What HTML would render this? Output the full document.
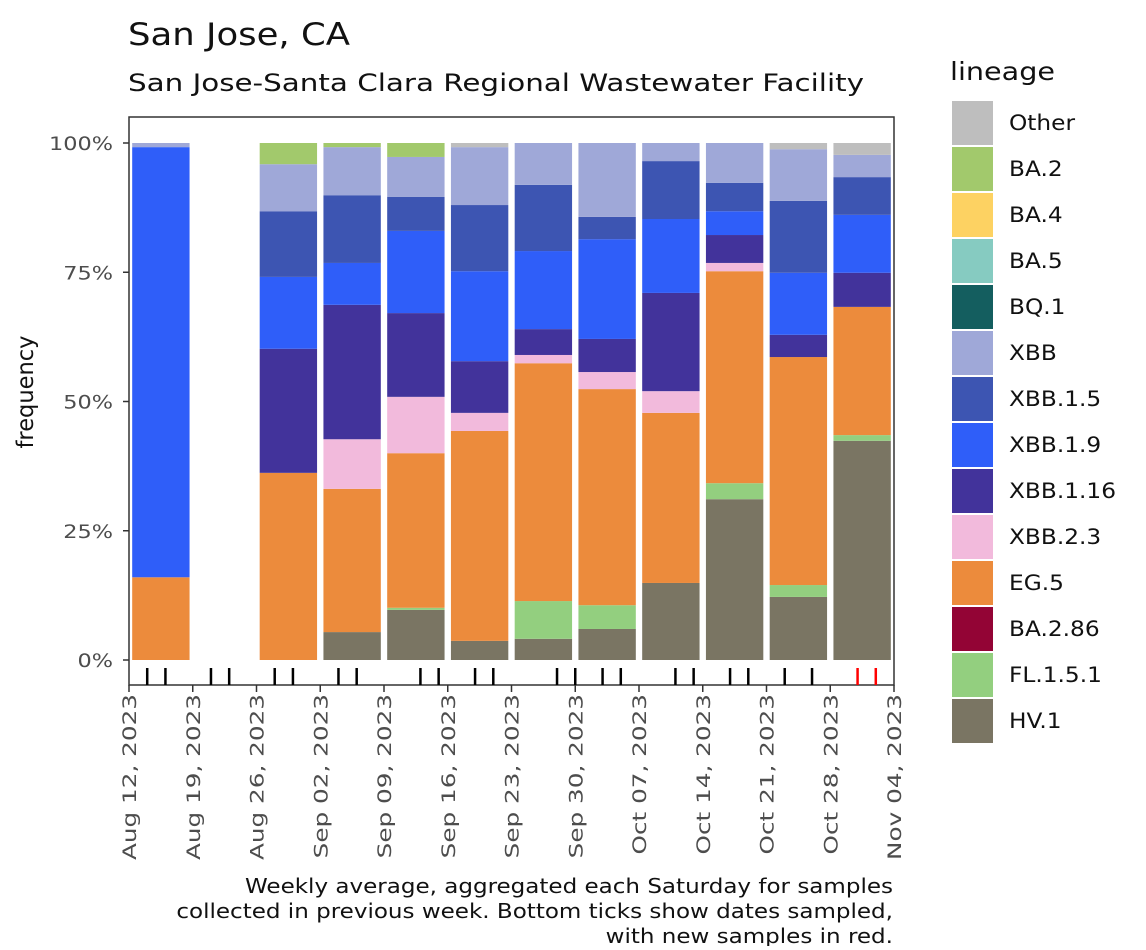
<!DOCTYPE html>
<html><head><meta charset="utf-8"><style>
body{margin:0;background:#fff;font-family:"DejaVu Sans","Liberation Sans",sans-serif;}
</style></head><body>
<svg id="chart" width="1146" height="946" xmlns="http://www.w3.org/2000/svg" font-family="DejaVu Sans, Liberation Sans, sans-serif">
<text id="title" x="128" y="45" font-size="31" fill="#111">San Jose, CA</text>
<text id="subtitle" x="128" y="91" font-size="24" fill="#111">San Jose-Santa Clara Regional Wastewater Facility</text>
<text id="ytitle" transform="translate(33,392) rotate(-90)" text-anchor="middle" font-size="23" fill="#111">frequency</text>
<g id="bars"></g>
<g id="axes"></g>
<g id="legend"></g>
<g id="caption" font-size="20" fill="#111" text-anchor="end">
<text x="893" y="893">Weekly average, aggregated each Saturday for samples</text>
<text x="893" y="918">collected in previous week. Bottom ticks show dates sampled,</text>
<text x="893" y="943">with new samples in red.</text>
</g>
</svg>
<script>
const lineages = ["Other","BA.2","BA.4","BA.5","BQ.1","XBB","XBB.1.5","XBB.1.9","XBB.1.16","XBB.2.3","EG.5","BA.2.86","FL.1.5.1","HV.1"];
const colors = ["#bebebe","#a2c96c","#fdd262","#86cbc1","#145e5f","#9fa8d8","#3d55b2","#2f5ef9","#42339b","#f2badc","#ec8b3c","#930435","#93cf7f","#7a7563"];
const weekIndex = [0,2,3,4,5,6,7,8,9,10,11];
const hv1   = [0,0,5.4,9.7,3.7,4.1,6,14.9,31.1,12.2,42.4];
const fl151 = [0,0,0,0.4,0,7.3,4.6,0,3.1,2.3,1.1];
const eg5   = [16,36.2,27.7,29.9,40.6,46,41.8,32.9,41,44.1,24.8];
const xbb23 = [0,0,9.6,10.9,3.5,1.6,3.3,4.2,1.6,0,0];
const xbb116= [0,24,26,16.2,10,5,6.4,19,5.4,4.3,6.6];
const xbb19 = [83.2,13.9,8.1,15.9,17.4,15.1,19.3,14.3,4.6,12,11.2];
const xbb15 = [0,12.7,13.1,6.6,12.8,12.8,4.3,11.2,5.5,13.9,7.3];
const xbb   = [0.8,9.1,9.3,7.7,11.2,8.1,14.3,3.5,7.7,10,4.3];
const ba2   = [0,4.1,0.8,2.7,0,0,0,0,0,0,0];
const other = [0,0,0,0,0.8,0,0,0,0,1.2,2.3];
const sampleDays = [2,4,9,11,16,18,23,25,32,34,38,40,47,49,52,54,60,62,66,68,72,75,80,82];
const sampleNew  = [0,0,0,0,0,0,0,0,0,0,0,0,0,0,0,0,0,0,0,0,0,0,1,1];
const yTicks = [0,25,50,75,100];
const xTickLabels = ["Aug 12, 2023","Aug 19, 2023","Aug 26, 2023","Sep 02, 2023","Sep 09, 2023","Sep 16, 2023","Sep 23, 2023","Sep 30, 2023","Oct 07, 2023","Oct 14, 2023","Oct 21, 2023","Oct 28, 2023","Nov 04, 2023"];

const NS="http://www.w3.org/2000/svg";
const X0=129, X1=894, Y0=660, Y100=143;
const dayW=(X1-X0)/84;
const xDay=d=>X0+d*dayW;
const y=v=>Y0-(Y0-Y100)*v/100;
function mk(tag,attrs,parent){const e=document.createElementNS(NS,tag);for(const k in attrs)e.setAttribute(k,attrs[k]);parent.appendChild(e);return e;}
function fitTo(el,target){el.setAttribute('textLength',target);el.setAttribute('lengthAdjust','spacingAndGlyphs');}
function scaleBy(el,f){const w=el.getComputedTextLength();fitTo(el,w*f);}
const axes=document.getElementById('axes'), bars=document.getElementById('bars'), legend=document.getElementById('legend');

const stack=[["HV.1",hv1],["FL.1.5.1",fl151],["EG.5",eg5],["XBB.2.3",xbb23],["XBB.1.16",xbb116],["XBB.1.9",xbb19],["XBB.1.5",xbb15],["XBB",xbb],["BA.2",ba2],["Other",other]];
weekIndex.forEach((w,i)=>{
  const cx=xDay(w*7+3.5), bw=7*dayW*0.9;
  let cum=0;
  stack.forEach(([name,arr])=>{
    const v=arr[i]; if(v<=0)return;
    const r=mk('rect',{x:cx-bw/2,y:y(cum+v),width:bw,height:y(cum)-y(cum+v),fill:colors[lineages.indexOf(name)]},bars);
    
    
    cum+=v;
  });
});

const frame=mk('rect',{x:X0,y:117,width:X1-X0,height:568,fill:'none',stroke:'#333','stroke-width':1.5},axes);


const yLabs=[];
yTicks.forEach(t=>{
  mk('line',{x1:X0-6,x2:X0,y1:y(t),y2:y(t),stroke:'#333','stroke-width':1.5},axes);
  const tx=mk('text',{x:X0-16,y:y(t)+7,'text-anchor':'end','font-size':19,fill:'#4d4d4d'},axes);
  tx.textContent=t+'%';
  
  
  yLabs.push(tx);
});
const xLabs=[];
xTickLabels.forEach((lab,i)=>{
  const x=xDay(i*7);
  mk('line',{x1:x,x2:x,y1:685,y2:692,stroke:'#333','stroke-width':1.5},axes);
  const tx=mk('text',{transform:`translate(${x+7},694) rotate(-90)`,'text-anchor':'end','font-size':19,fill:'#4d4d4d'},axes);
  tx.textContent=lab;
  
  
  xLabs.push(tx);
});
sampleDays.forEach((d,i)=>{
  const l=mk('line',{x1:xDay(d),x2:xDay(d),y1:668,y2:685,stroke:sampleNew[i]?'#ff0000':'#000','stroke-width':2.5},axes);
  
  
});

const lt=mk('text',{x:950,y:80,'font-size':25,fill:'#111'},legend);
lt.textContent='lineage';


const legLabs=[];
lineages.forEach((n,i)=>{
  const yy=101+i*46;
  const r=mk('rect',{x:952,y:yy,width:41,height:44,fill:colors[i]},legend);
  
  
  const t=mk('text',{x:1009,y:yy+29,'font-size':21,fill:'#111'},legend);
  t.textContent=n;
  
  
  legLabs.push(t);
});

fitTo(document.getElementById('title'),222);
fitTo(document.getElementById('subtitle'),736);
fitTo(document.getElementById('ytitle'),113);
fitTo(lt,105);
const fy=64/yLabs[4].getComputedTextLength();
yLabs.forEach(t=>scaleBy(t,fy));
const fx=166/xLabs[0].getComputedTextLength();
xLabs.forEach(t=>scaleBy(t,fx));
const fl=107/legLabs[8].getComputedTextLength();
legLabs.forEach(t=>scaleBy(t,fl));
const caps=document.querySelectorAll('#caption text');
const fc=648/caps[0].getComputedTextLength();
caps.forEach(t=>scaleBy(t,fc));
</script>
</body></html>
